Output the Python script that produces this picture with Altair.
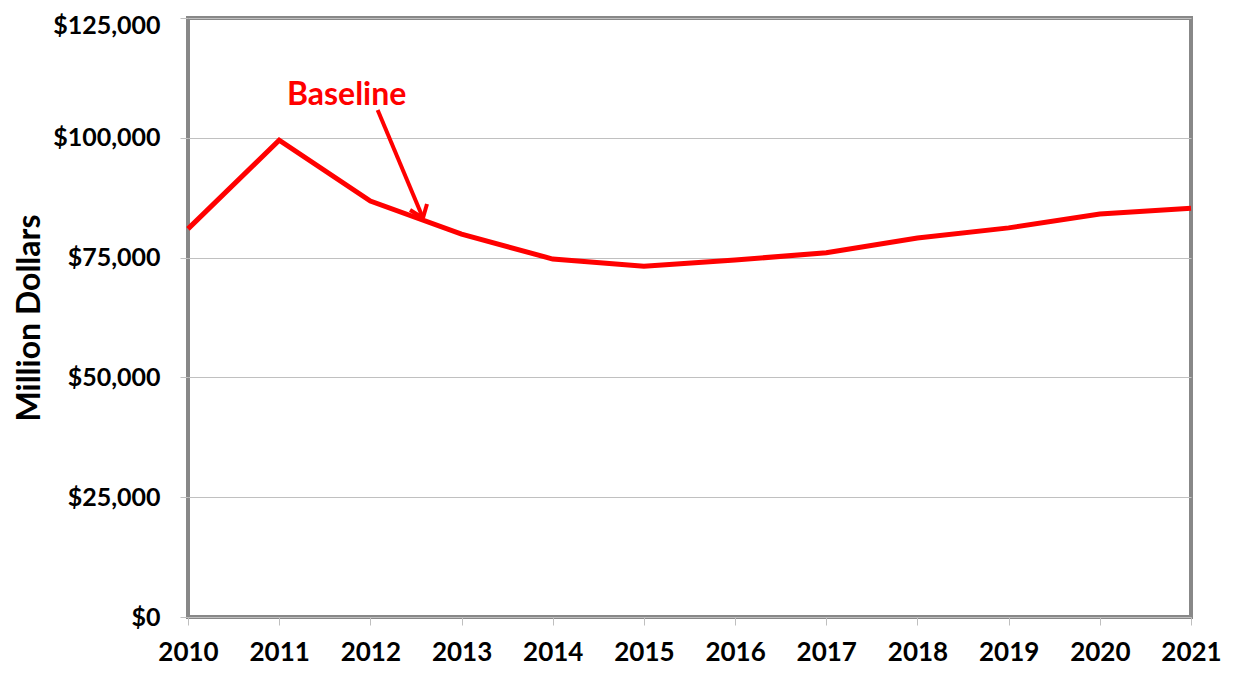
import altair as alt
import pandas as pd

years = [2010, 2011, 2012, 2013, 2014, 2015, 2016, 2017, 2018, 2019, 2020, 2021]
baseline = [81000, 99500, 86800, 79900, 74700, 73200, 74500, 76000, 79100, 81200, 84100, 85300]

label_text = ["Baseline"]
label_x = [2011.74]
label_y = [108900]

arrow_x = [2012.08]
arrow_y = [105800]
arrow_x2 = [2012.577]
arrow_y2 = [83260]
# arrowhead barbs (data coords)
barb_x = [2012.435, 2012.621]
barb_y = [84930, 86180]

df = pd.DataFrame({"year": years, "value": baseline})
lab = pd.DataFrame({"x": label_x, "y": label_y, "t": label_text})
arr = pd.DataFrame({"x": arrow_x, "y": arrow_y, "x2": arrow_x2, "y2": arrow_y2})
barbs = pd.DataFrame({"x": barb_x, "y": barb_y, "x2": arrow_x2 * 2, "y2": arrow_y2 * 2})

FONT = "Lato"

xs = alt.Scale(domain=[2010, 2021], nice=False, zero=False)
ys = alt.Scale(domain=[0, 125000], nice=False)

line = alt.Chart(df).mark_line(color="#ff0000", strokeWidth=5).encode(
    x=alt.X("year:Q", scale=xs, title=None,
            axis=alt.Axis(values=years, format="d", grid=False, tickSize=8,
                          tickColor="#bfbfbf", labelPadding=14, labelFontSize=26,
                          labelFont=FONT, labelFontWeight="bold", labelColor="#000",
                          domain=False, labelFlush=False)),
    y=alt.Y("value:Q", scale=ys, title="Million Dollars",
            axis=alt.Axis(values=[0, 25000, 50000, 75000, 100000, 125000],
                          format="$,.0f", grid=True, gridColor="#c0c0c0",
                          tickSize=8, tickColor="#bfbfbf", labelPadding=20,
                          labelOffset={"expr": "datum.value == 125000 ? 7 : 0"},
                          labelFontSize=25, labelFont=FONT, labelFontWeight="bold",
                          labelColor="#000", titleFontSize=32, titleFont=FONT,
                          titleFontWeight="bold", titleColor="#000", titlePadding=6,
                          domain=False)),
)

text = alt.Chart(lab).mark_text(color="#ff0000", fontSize=32, font=FONT,
                                fontWeight="bold", baseline="middle").encode(
    x=alt.X("x:Q", scale=xs), y=alt.Y("y:Q", scale=ys), text="t:N")

arrow = alt.Chart(arr).mark_rule(color="#ff0000", strokeWidth=4).encode(
    x=alt.X("x:Q", scale=xs), y=alt.Y("y:Q", scale=ys), x2="x2:Q", y2="y2:Q")

barb = alt.Chart(barbs).mark_rule(color="#ff0000", strokeWidth=4).encode(
    x=alt.X("x:Q", scale=xs), y=alt.Y("y:Q", scale=ys), x2="x2:Q", y2="y2:Q")

chart = alt.layer(line, arrow, barb, text).properties(
    width=1003, height=599,
    autosize=alt.AutoSizeParams(type="none"),
    padding={"left": 180, "top": 10, "right": 33, "bottom": 48},
).configure(
    background="white",
    view=alt.ViewConfig(stroke="#888888", strokeWidth=4),
)

chart.save("out.html", embed_options={"renderer": "svg", "actions": False})
